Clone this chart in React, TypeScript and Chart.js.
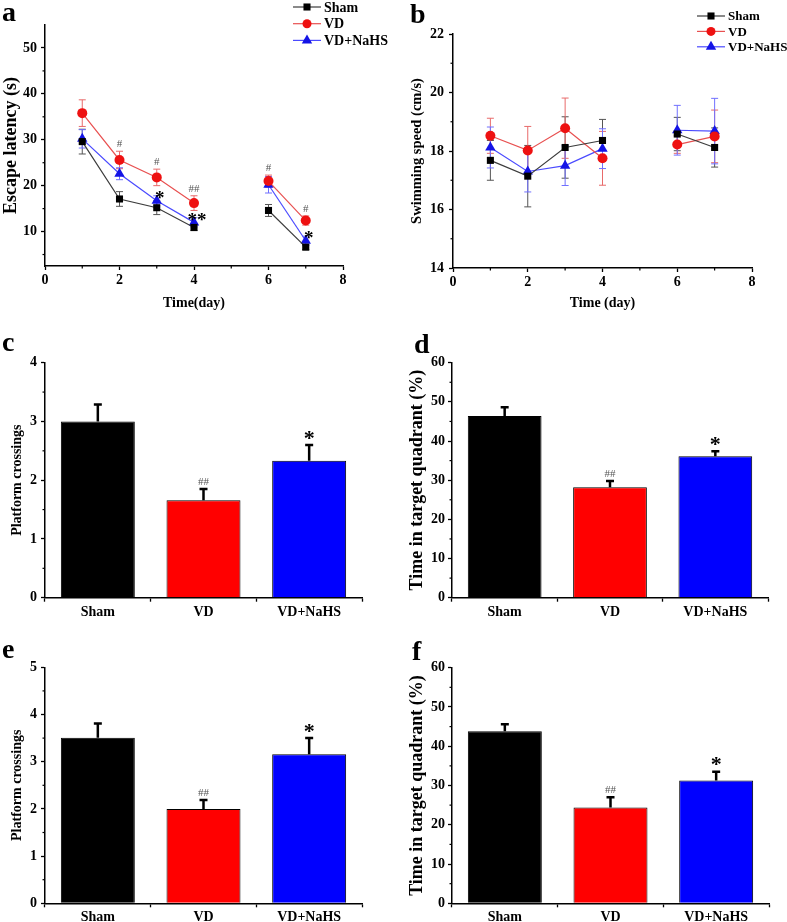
import React, { useEffect, useRef } from "react";
import { Chart, registerables } from "chart.js";

Chart.register(...registerables);

const FONT = "'Liberation Serif', 'Times New Roman', Times, serif";

// ---------- data ----------
const days = [1, 2, 3, 4, 6, 7];
const groups = ["Sham", "VD", "VD+NaHS"];

// panel a: escape latency (s)
const latencySham = [29.6, 17.1, 15.2, 10.9, 14.6, 6.6];
const latencyShamErr = [2.7, 1.6, 1.5, 0.7, 1.3, 0.5];
const latencyVD = [35.8, 25.6, 21.8, 16.2, 21.0, 12.4];
const latencyVDErr = [2.9, 1.9, 1.8, 1.6, 1.3, 1.0];
const latencyNaHS = [30.2, 22.6, 16.7, 12.0, 20.2, 8.0];
const latencyNaHSErr = [2.0, 1.3, 1.1, 1.0, 1.8, 1.0];
const latencyVDMarks = ["", "#", "#", "##", "#", "#"];
const latencyNaHSMarks = ["", "", "*", "**", "", "*"];
const latencyYTicks = [5, 10, 15, 20, 25, 30, 35, 40, 45, 50];

// panel b: swimming speed (cm/s)
const speedSham = [17.68, 17.14, 18.12, 18.36, 18.58, 18.12];
const speedShamErr = [0.68, 1.05, 1.05, 0.72, 0.57, 0.67];
const speedVD = [18.52, 18.02, 18.78, 17.75, 18.22, 18.5];
const speedVDErr = [0.6, 0.82, 1.03, 0.92, 0.3, 0.9];
const speedNaHS = [18.12, 17.3, 17.5, 18.08, 18.71, 18.68];
const speedNaHSErr = [0.7, 0.7, 0.68, 0.68, 0.85, 1.12];
const speedYTicks = [14, 15, 16, 17, 18, 19, 20, 21, 22];

const dayTicks = [0, 1, 2, 3, 4, 5, 6, 7, 8];

// panel c / e: platform crossings
const crossings1 = [3.0, 1.66, 2.33];
const crossings1Err = [0.29, 0.19, 0.27];
const crossings2 = [3.51, 2.0, 3.16];
const crossings2Err = [0.3, 0.19, 0.34];
const crossingsTicks1 = [0, 0.5, 1, 1.5, 2, 2.5, 3, 3.5, 4];
const crossingsTicks2 = [0, 0.5, 1, 1.5, 2, 2.5, 3, 3.5, 4, 4.5, 5];

// panel d / f: time in target quadrant (%)
const quadrant1 = [46.4, 28.2, 36.1];
const quadrant1Err = [2.2, 1.6, 1.3];
const quadrant2 = [43.8, 24.4, 31.3];
const quadrant2Err = [1.8, 2.6, 2.2];
const quadrantTicks = [0, 5, 10, 15, 20, 25, 30, 35, 40, 45, 50, 55, 60];

const barMarks = ["", "##", "*"];

// ---------- plugins ----------
const isMajor = (v: number, step: number) =>
  Math.abs(v / step - Math.round(v / step)) < 1e-6;

const valOf = (d: any) => (typeof d === "number" ? d : d.y);

const errorPlugin = {
  id: "errorBars",
  beforeDatasetsDraw(chart: any) {
    if (chart.config.type !== "line") return;
    const ctx = chart.ctx;
    const ys = chart.scales.y;
    chart.data.datasets.forEach((ds: any, i: number) => {
      if (!ds.errors) return;
      const meta = chart.getDatasetMeta(i);
      meta.data.forEach((el: any, j: number) => {
        const v = valOf(ds.data[j]);
        const e = ds.errors[j];
        const y1 = ys.getPixelForValue(v + e);
        const y2 = ys.getPixelForValue(v - e);
        ctx.save();
        ctx.strokeStyle = ds.errColor;
        ctx.lineWidth = 1;
        ctx.beginPath();
        ctx.moveTo(el.x, y1);
        ctx.lineTo(el.x, y2);
        ctx.moveTo(el.x - 3.5, y1);
        ctx.lineTo(el.x + 3.5, y1);
        ctx.moveTo(el.x - 3.5, y2);
        ctx.lineTo(el.x + 3.5, y2);
        ctx.stroke();
        ctx.restore();
      });
    });
  },
  afterDatasetsDraw(chart: any) {
    const ctx = chart.ctx;
    const ys = chart.scales.y;
    const isBar = chart.config.type === "bar";
    chart.data.datasets.forEach((ds: any, i: number) => {
      const meta = chart.getDatasetMeta(i);
      meta.data.forEach((el: any, j: number) => {
        const v = valOf(ds.data[j]);
        const e = ds.errors ? ds.errors[j] : 0;
        const top = ys.getPixelForValue(v + e);
        if (isBar && ds.errors) {
          const base = ys.getPixelForValue(v);
          ctx.save();
          ctx.strokeStyle = "#000";
          ctx.lineWidth = 2.5;
          ctx.beginPath();
          ctx.moveTo(el.x, base);
          ctx.lineTo(el.x, top);
          ctx.moveTo(el.x - 4, top);
          ctx.lineTo(el.x + 4, top);
          ctx.stroke();
          ctx.restore();
        }
        const t = ds.marks ? ds.marks[j] : "";
        if (!t) return;
        ctx.save();
        ctx.textAlign = "center";
        ctx.textBaseline = "middle";
        if (t.includes("*")) {
          ctx.font = `bold ${isBar ? 22 : 19}px ${FONT}`;
          ctx.fillStyle = "#000";
          ctx.fillText(t, el.x + (isBar ? 0 : 3), top + (isBar ? -6 : 3));
        } else {
          ctx.font = `11px ${FONT}`;
          ctx.fillStyle = "#555";
          ctx.fillText(t, el.x, top - 7);
        }
        ctx.restore();
      });
    });
  },
};

const minorTickPlugin = {
  id: "minorTicks",
  afterDraw(chart: any, _args: any, opts: any) {
    const ctx = chart.ctx;
    ["x", "y"].forEach((id) => {
      const step = opts && opts[id];
      if (!step) return;
      const sc = chart.scales[id];
      ctx.save();
      ctx.strokeStyle = "#000";
      ctx.lineWidth = 1.2;
      sc.ticks.forEach((t: any) => {
        if (isMajor(t.value, step)) return;
        const p = sc.getPixelForValue(t.value);
        ctx.beginPath();
        if (id === "x") {
          ctx.moveTo(p, sc.top);
          ctx.lineTo(p, sc.top + 2.5);
        } else {
          ctx.moveTo(sc.right, p);
          ctx.lineTo(sc.right - 2.5, p);
        }
        ctx.stroke();
      });
      ctx.restore();
    });
  },
};

function drawMarker(ctx: CanvasRenderingContext2D, style: string, x: number, y: number, r: number) {
  ctx.beginPath();
  if (style === "rect") {
    const s = r * Math.SQRT1_2;
    ctx.rect(x - s, y - s, 2 * s, 2 * s);
  } else if (style === "triangle") {
    ctx.moveTo(x, y - r);
    ctx.lineTo(x + r * 0.866, y + r * 0.5);
    ctx.lineTo(x - r * 0.866, y + r * 0.5);
    ctx.closePath();
  } else {
    ctx.arc(x, y, r * 0.9, 0, Math.PI * 2);
  }
  ctx.fill();
}

const legendPlugin = {
  id: "floatLegend",
  afterDraw(chart: any, _args: any, opts: any) {
    if (!opts || !opts.show) return;
    const ctx = chart.ctx;
    chart.data.datasets.forEach((ds: any, i: number) => {
      const y = opts.y0 + i * opts.dy;
      ctx.save();
      ctx.strokeStyle = ds.borderColor;
      ctx.lineWidth = 1.2;
      ctx.beginPath();
      ctx.moveTo(opts.x0, y);
      ctx.lineTo(opts.x1, y);
      ctx.stroke();
      ctx.fillStyle = ds.pointBackgroundColor;
      drawMarker(ctx, ds.pointStyle, (opts.x0 + opts.x1) / 2, y, ds.pointRadius);
      ctx.fillStyle = "#000";
      ctx.font = `bold ${opts.size}px ${FONT}`;
      ctx.textAlign = "left";
      ctx.textBaseline = "middle";
      ctx.fillText(ds.label, opts.x1 + 3, y + 1);
      ctx.restore();
    });
  },
};

// ---------- config builders ----------
interface Box {
  left: number; top: number; w: number; h: number;
  aL: number; aT: number; aR: number; aB: number;
}

const tickFont = { family: FONT, size: 14, weight: "bold" as const };

function yScale(box: Box, min: number, max: number, ticks: number[], major: number,
  title: string, titleSize: number, titlePad: number, labelPad: number) {
  return {
    type: "linear",
    min, max,
    afterFit: (s: any) => { s.width = box.aL; },
    afterBuildTicks: (s: any) => { s.ticks = ticks.map((v) => ({ value: v })); },
    border: { display: true, color: "#000", width: 1.5 },
    grid: {
      display: true, drawOnChartArea: false, drawTicks: true, tickLength: 4,
      tickWidth: 1.3,
      tickColor: (c: any) => (c.tick && isMajor(c.tick.value, major) ? "#000" : "rgba(0,0,0,0)"),
    },
    ticks: {
      autoSkip: false, padding: labelPad, color: "#000", font: tickFont,
      callback: (v: any) => (isMajor(Number(v), major) ? String(v) : ""),
    },
    title: {
      display: true, text: title, color: "#000",
      font: { family: FONT, size: titleSize, weight: "bold" as const },
      padding: { top: titlePad, bottom: 0 },
    },
  };
}

function lineConfig(box: Box, series: any[], yMin: number, yMax: number, yTicks: number[],
  yMajor: number, yTitle: string, yTitleSize: number, yTitlePad: number, yLabelPad: number,
  xTitle: string, legend: any) {
  return {
    type: "line",
    data: {
      datasets: series.map((s) => ({
        label: s.label,
        data: days.map((d, i) => ({ x: d, y: s.values[i] })),
        errors: s.errors,
        marks: s.marks,
        errColor: s.errColor,
        borderColor: s.line,
        borderWidth: 1.2,
        pointStyle: s.marker,
        pointRadius: s.radius,
        pointBackgroundColor: s.fill,
        pointBorderColor: s.fill,
        pointBorderWidth: 0,
        fill: false,
        tension: 0,
        segment: {
          borderColor: (c: any) => (c.p1.parsed.x - c.p0.parsed.x > 1.5 ? "rgba(0,0,0,0)" : undefined),
        },
      })),
    },
    options: {
      responsive: false, animation: false, devicePixelRatio: 1,
      layout: { padding: { top: box.aT, right: box.w - box.aR, left: 0, bottom: 0 } },
      plugins: {
        legend: { display: false }, tooltip: { enabled: false },
        minorTicks: { x: 2, y: yMajor },
        floatLegend: legend,
      },
      scales: {
        x: {
          type: "linear", min: 0, max: 8,
          afterFit: (s: any) => { s.height = box.h - box.aB; },
          afterBuildTicks: (s: any) => { s.ticks = dayTicks.map((v) => ({ value: v })); },
          border: { display: true, color: "#000", width: 1.5 },
          grid: {
            display: true, drawOnChartArea: false, drawTicks: true, tickLength: 4, tickWidth: 1.3,
            tickColor: (c: any) => (c.tick && isMajor(c.tick.value, 2) ? "#000" : "rgba(0,0,0,0)"),
          },
          ticks: {
            autoSkip: false, maxRotation: 0, padding: 2, color: "#000", font: tickFont,
            callback: (v: any) => (isMajor(Number(v), 2) ? String(v) : ""),
          },
          title: {
            display: true, text: xTitle, color: "#000",
            font: { family: FONT, size: 14, weight: "bold" as const },
            padding: { top: 0, bottom: 8 },
          },
        },
        y: yScale(box, yMin, yMax, yTicks, yMajor, yTitle, yTitleSize, yTitlePad, yLabelPad),
      },
    },
    plugins: [errorPlugin, minorTickPlugin, legendPlugin],
  };
}

function barConfig(box: Box, values: number[], errors: number[], yMax: number, yTicks: number[],
  yMajor: number, yTitle: string, yTitleSize: number, yTitlePad: number, yLabelPad: number) {
  return {
    type: "bar",
    data: {
      labels: groups,
      datasets: [{
        label: yTitle,
        data: values,
        errors,
        marks: barMarks,
        backgroundColor: ["#000000", "#ff0000", "#0000ff"],
        borderColor: "#000",
        borderWidth: 1,
        barPercentage: 0.7,
        categoryPercentage: 1,
      }],
    },
    options: {
      responsive: false, animation: false, devicePixelRatio: 1,
      layout: { padding: { top: box.aT, right: box.w - box.aR, left: 0, bottom: 0 } },
      plugins: {
        legend: { display: false }, tooltip: { enabled: false },
        minorTicks: { y: yMajor },
      },
      scales: {
        x: {
          type: "category",
          afterFit: (s: any) => { s.height = box.h - box.aB; },
          border: { display: true, color: "#000", width: 1.5 },
          grid: {
            display: true, drawOnChartArea: false, drawTicks: true, tickLength: 4,
            tickWidth: 1.3, tickColor: "#000", offset: true,
          },
          ticks: { autoSkip: false, maxRotation: 0, padding: 2, color: "#000", font: tickFont },
        },
        y: yScale(box, 0, yMax, yTicks, yMajor, yTitle, yTitleSize, yTitlePad, yLabelPad),
      },
    },
    plugins: [errorPlugin, minorTickPlugin],
  };
}

// ---------- panels ----------
const boxA: Box = { left: 0, top: 0, w: 390, h: 320, aL: 45, aT: 25, aR: 343, aB: 266 };
const boxB: Box = { left: 390, top: 0, w: 397, h: 320, aL: 63, aT: 34, aR: 362, aB: 268 };
const boxC: Box = { left: 0, top: 310, w: 390, h: 312, aL: 45, aT: 52.7, aR: 362, aB: 287.7 };
const boxD: Box = { left: 390, top: 310, w: 397, h: 312, aL: 62, aT: 52.7, aR: 378, aB: 287.7 };
const boxE: Box = { left: 0, top: 620, w: 390, h: 302, aL: 45, aT: 47.3, aR: 362, aB: 283.3 };
const boxF: Box = { left: 390, top: 620, w: 397, h: 302, aL: 62, aT: 47.7, aR: 379, aB: 283.3 };

const styleSham = { label: "Sham", line: "#3c3c3c", fill: "#000000", marker: "rect", radius: 5, errColor: "#555555" };
const styleVD = { label: "VD", line: "#e85050", fill: "#ee1111", marker: "circle", radius: 5, errColor: "#e86a6a" };
const styleNaHS = { label: "VD+NaHS", line: "#4a4aff", fill: "#1414e6", marker: "triangle", radius: 6, errColor: "#7070ff" };

const buildA = () =>
  lineConfig(boxA, [
    { ...styleSham, values: latencySham, errors: latencyShamErr },
    { ...styleVD, values: latencyVD, errors: latencyVDErr, marks: latencyVDMarks },
    { ...styleNaHS, values: latencyNaHS, errors: latencyNaHSErr, marks: latencyNaHSMarks },
  ], 2.5, 55, latencyYTicks, 10, "Escape latency (s)", 18, 1, 4, "Time(day)",
  { show: true, x0: 293, x1: 321, y0: 7, dy: 16.7, size: 14 });

const buildB = () =>
  lineConfig(boxB, [
    { ...styleSham, values: speedSham, errors: speedShamErr },
    { ...styleVD, values: speedVD, errors: speedVDErr },
    { ...styleNaHS, values: speedNaHS, errors: speedNaHSErr },
  ], 14, 22, speedYTicks, 2, "Swimming speed (cm/s)", 14.5, 19, 5, "Time (day)",
  { show: true, x0: 307, x1: 335, y0: 16, dy: 15.4, size: 13 });

const buildC = () => barConfig(boxC, crossings1, crossings1Err, 4, crossingsTicks1, 1, "Platform crossings", 14, 9, 4);
const buildD = () => barConfig(boxD, quadrant1, quadrant1Err, 60, quadrantTicks, 10, "Time in target quadrant (%)", 18, 17, 3);
const buildE = () => barConfig(boxE, crossings2, crossings2Err, 5, crossingsTicks2, 1, "Platform crossings", 14, 9, 4);
const buildF = () => barConfig(boxF, quadrant2, quadrant2Err, 60, quadrantTicks, 10, "Time in target quadrant (%)", 18, 17, 3);

function Panel({ box, build }: { box: Box; build: () => any }) {
  const ref = useRef<HTMLCanvasElement>(null);
  useEffect(() => {
    const chart = new Chart(ref.current as HTMLCanvasElement, build() as any);
    return () => chart.destroy();
  }, []);
  return (
    <canvas
      ref={ref}
      width={box.w}
      height={box.h}
      style={{ position: "absolute", left: box.left, top: box.top, width: box.w, height: box.h }}
    />
  );
}

const panelLetters = [
  { t: "a", x: 2, base: 23 },
  { t: "b", x: 410, base: 25 },
  { t: "c", x: 2, base: 353 },
  { t: "d", x: 414, base: 355 },
  { t: "e", x: 2, base: 660 },
  { t: "f", x: 412, base: 662 },
];

export default function App() {
  return (
    <div style={{ position: "absolute", left: 0, top: 0, width: 787, height: 922, background: "#fff", overflow: "hidden" }}>
      <Panel box={boxA} build={buildA} />
      <Panel box={boxB} build={buildB} />
      <Panel box={boxC} build={buildC} />
      <Panel box={boxD} build={buildD} />
      <Panel box={boxE} build={buildE} />
      <Panel box={boxF} build={buildF} />
      {panelLetters.map((p) => (
        <div
          key={p.t}
          style={{
            position: "absolute", left: p.x, top: p.base - 25, fontFamily: FONT,
            fontWeight: "bold", fontSize: 28, lineHeight: "28px", color: "#000",
          }}
        >
          {p.t}
        </div>
      ))}
    </div>
  );
}
